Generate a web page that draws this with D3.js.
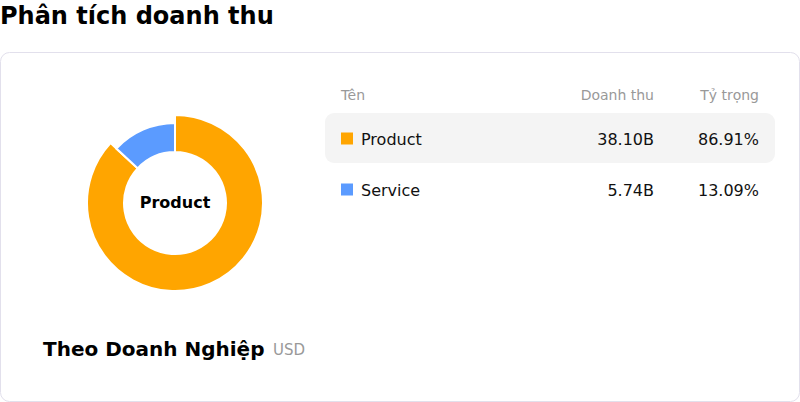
<!DOCTYPE html>
<html><head><meta charset="utf-8">
<script src="https://cdn.jsdelivr.net/npm/d3@7"></script>
<style>
body{margin:0;background:#fff;font-family:"DejaVu Sans",sans-serif;}
</style></head><body>
<svg id="c" width="800" height="402"></svg>
<script>
const categories = ["Product", "Service"];
const revenue = [38.10, 5.74];
const revenueLabels = ["38.10B", "5.74B"];
const shareLabels = ["86.91%", "13.09%"];
const colors = ["#FFA500", "#5B9BFF"];
const headers = ["Tên", "Doanh thu", "Tỷ trọng"];

const svg = d3.select("#c");
svg.append("text").attr("x",0).attr("y",24).attr("font-size",24).attr("font-weight","bold").attr("fill","#000").text("Phân tích doanh thu");
svg.append("rect").attr("x",0.5).attr("y",52.5).attr("width",799).attr("height",349).attr("rx",9).attr("fill","#fff").attr("stroke","#e2e0ec");

const cx=175, cy=203;
const pie = d3.pie().sort(null).value(d=>d)(revenue);
const g = svg.append("g").attr("transform",`translate(${cx},${cy})`);
g.selectAll("path").data(pie).join("path")
  .attr("d",(d,i)=>d3.arc().innerRadius(51).outerRadius(i===0?88:80)(d))
  .attr("fill",(d,i)=>colors[i]).attr("stroke","#fff").attr("stroke-width",2);
g.append("text").attr("text-anchor","middle").attr("y",5).attr("font-size",16).attr("font-weight","bold").text(categories[0]);

svg.append("text").attr("x",43).attr("y",356).attr("font-size",20).attr("font-weight","bold").text("Theo Doanh Nghiệp");
svg.append("text").attr("x",273).attr("y",355).attr("font-size",15).attr("fill","#999").text("USD");

const hy=100;
svg.append("text").attr("x",341).attr("y",hy).attr("font-size",14).attr("fill","#999").text(headers[0]);
svg.append("text").attr("x",654).attr("y",hy).attr("text-anchor","end").attr("font-size",14).attr("fill","#999").text(headers[1]);
svg.append("text").attr("x",759).attr("y",hy).attr("text-anchor","end").attr("font-size",14).attr("fill","#999").text(headers[2]);

const y = d3.scaleBand().domain(categories).range([113,215]).padding(0);
svg.append("rect").attr("x",325).attr("y",y(categories[0])).attr("width",450).attr("height",50).attr("rx",9).attr("fill","#f4f4f4");
const rows = svg.selectAll("g.row").data(categories).join("g").attr("class","row")
  .attr("transform",d=>`translate(0,${y(d)+y.bandwidth()/2})`);
rows.append("rect").attr("x",341).attr("y",-6).attr("width",12).attr("height",12).attr("fill",(d,i)=>colors[i]);
rows.append("text").attr("x",361).attr("y",6).attr("font-size",16).attr("fill","#111").text(d=>d);
rows.append("text").attr("x",654).attr("y",6).attr("text-anchor","end").attr("font-size",16).attr("fill","#111").text((d,i)=>revenueLabels[i]);
rows.append("text").attr("x",759).attr("y",6).attr("text-anchor","end").attr("font-size",16).attr("fill","#111").text((d,i)=>shareLabels[i]);
</script></body></html>
